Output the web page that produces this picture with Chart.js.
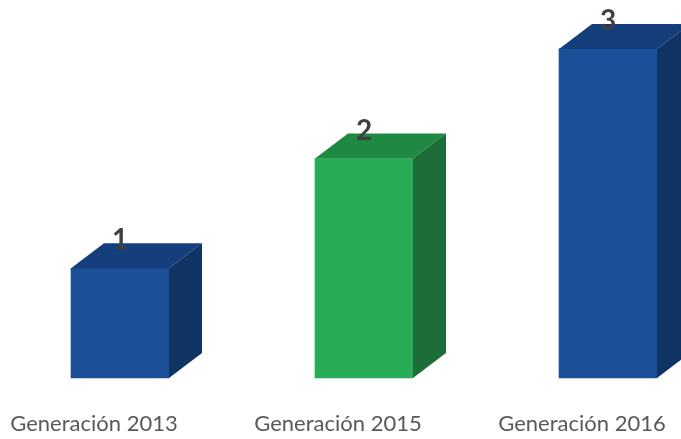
<!DOCTYPE html>
<html><head><meta charset="utf-8">
<script src="https://cdn.jsdelivr.net/npm/chart.js@4"></script>
<style>html,body{margin:0;padding:0;background:#fff}#w{width:681px;height:439px}</style>
</head><body><div id="w"><canvas id="c"></canvas></div>
<script>
const categories = ["Generación 2013", "Generación 2015", "Generación 2016"];
const values = [1, 2, 3];
const frontColors = ["#1B4F98", "#29AC56", "#1B4F98"];
const topColors = ["#143F7C", "#1F8943", "#143F7C"];
const sideColors = ["#0F3362", "#1B6E37", "#0F3362"];

const DX = 33, DY = 25;
const cube = {
  id: 'cube',
  afterDatasetsDraw(chart) {
    const ctx = chart.ctx;
    const meta = chart.getDatasetMeta(0);
    meta.data.forEach((bar, i) => {
      const w = bar.width, l = bar.x - w / 2, r = bar.x + w / 2, t = bar.y, b = bar.base;
      ctx.save();
      ctx.fillStyle = topColors[i];
      ctx.beginPath();
      ctx.moveTo(l, t); ctx.lineTo(l + DX, t - DY); ctx.lineTo(r + DX, t - DY); ctx.lineTo(r, t); ctx.closePath(); ctx.fill();
      ctx.fillStyle = sideColors[i];
      ctx.beginPath();
      ctx.moveTo(r, t); ctx.lineTo(r + DX, t - DY); ctx.lineTo(r + DX, b - DY); ctx.lineTo(r, b); ctx.closePath(); ctx.fill();
      ctx.fillStyle = '#404040';
      ctx.font = 'bold 28px Lato';
      ctx.textAlign = 'center';
      ctx.textBaseline = 'alphabetic';
      ctx.fillText(String(values[i]), bar.x, t - 19);
      ctx.restore();
    });
  }
};

new Chart(document.getElementById('c'), {
  type: 'bar',
  data: { labels: categories, datasets: [{ data: values, backgroundColor: frontColors, borderWidth: 0, barThickness: 98, clip: false }] },
  plugins: [cube],
  options: {
    responsive: true, maintainAspectRatio: false, animation: false,
    layout: { padding: { left: 120, right: 73, top: 5, bottom: 0 } },
    plugins: { legend: { display: false }, tooltip: { enabled: false } },
    scales: {
      x: {
        offset: false,
        grid: { display: false, drawTicks: false },
        border: { display: false },
        ticks: { color: '#595959', font: { family: 'Lato', size: 22 }, labelOffset: -26, padding: 33, maxRotation: 0, autoSkip: false },
        afterFit(s) { s.paddingLeft = 0; s.paddingRight = 0; s.height = 61; }
      },
      y: { display: false, min: 0, max: 3.4 }
    }
  }
});
</script></body></html>
